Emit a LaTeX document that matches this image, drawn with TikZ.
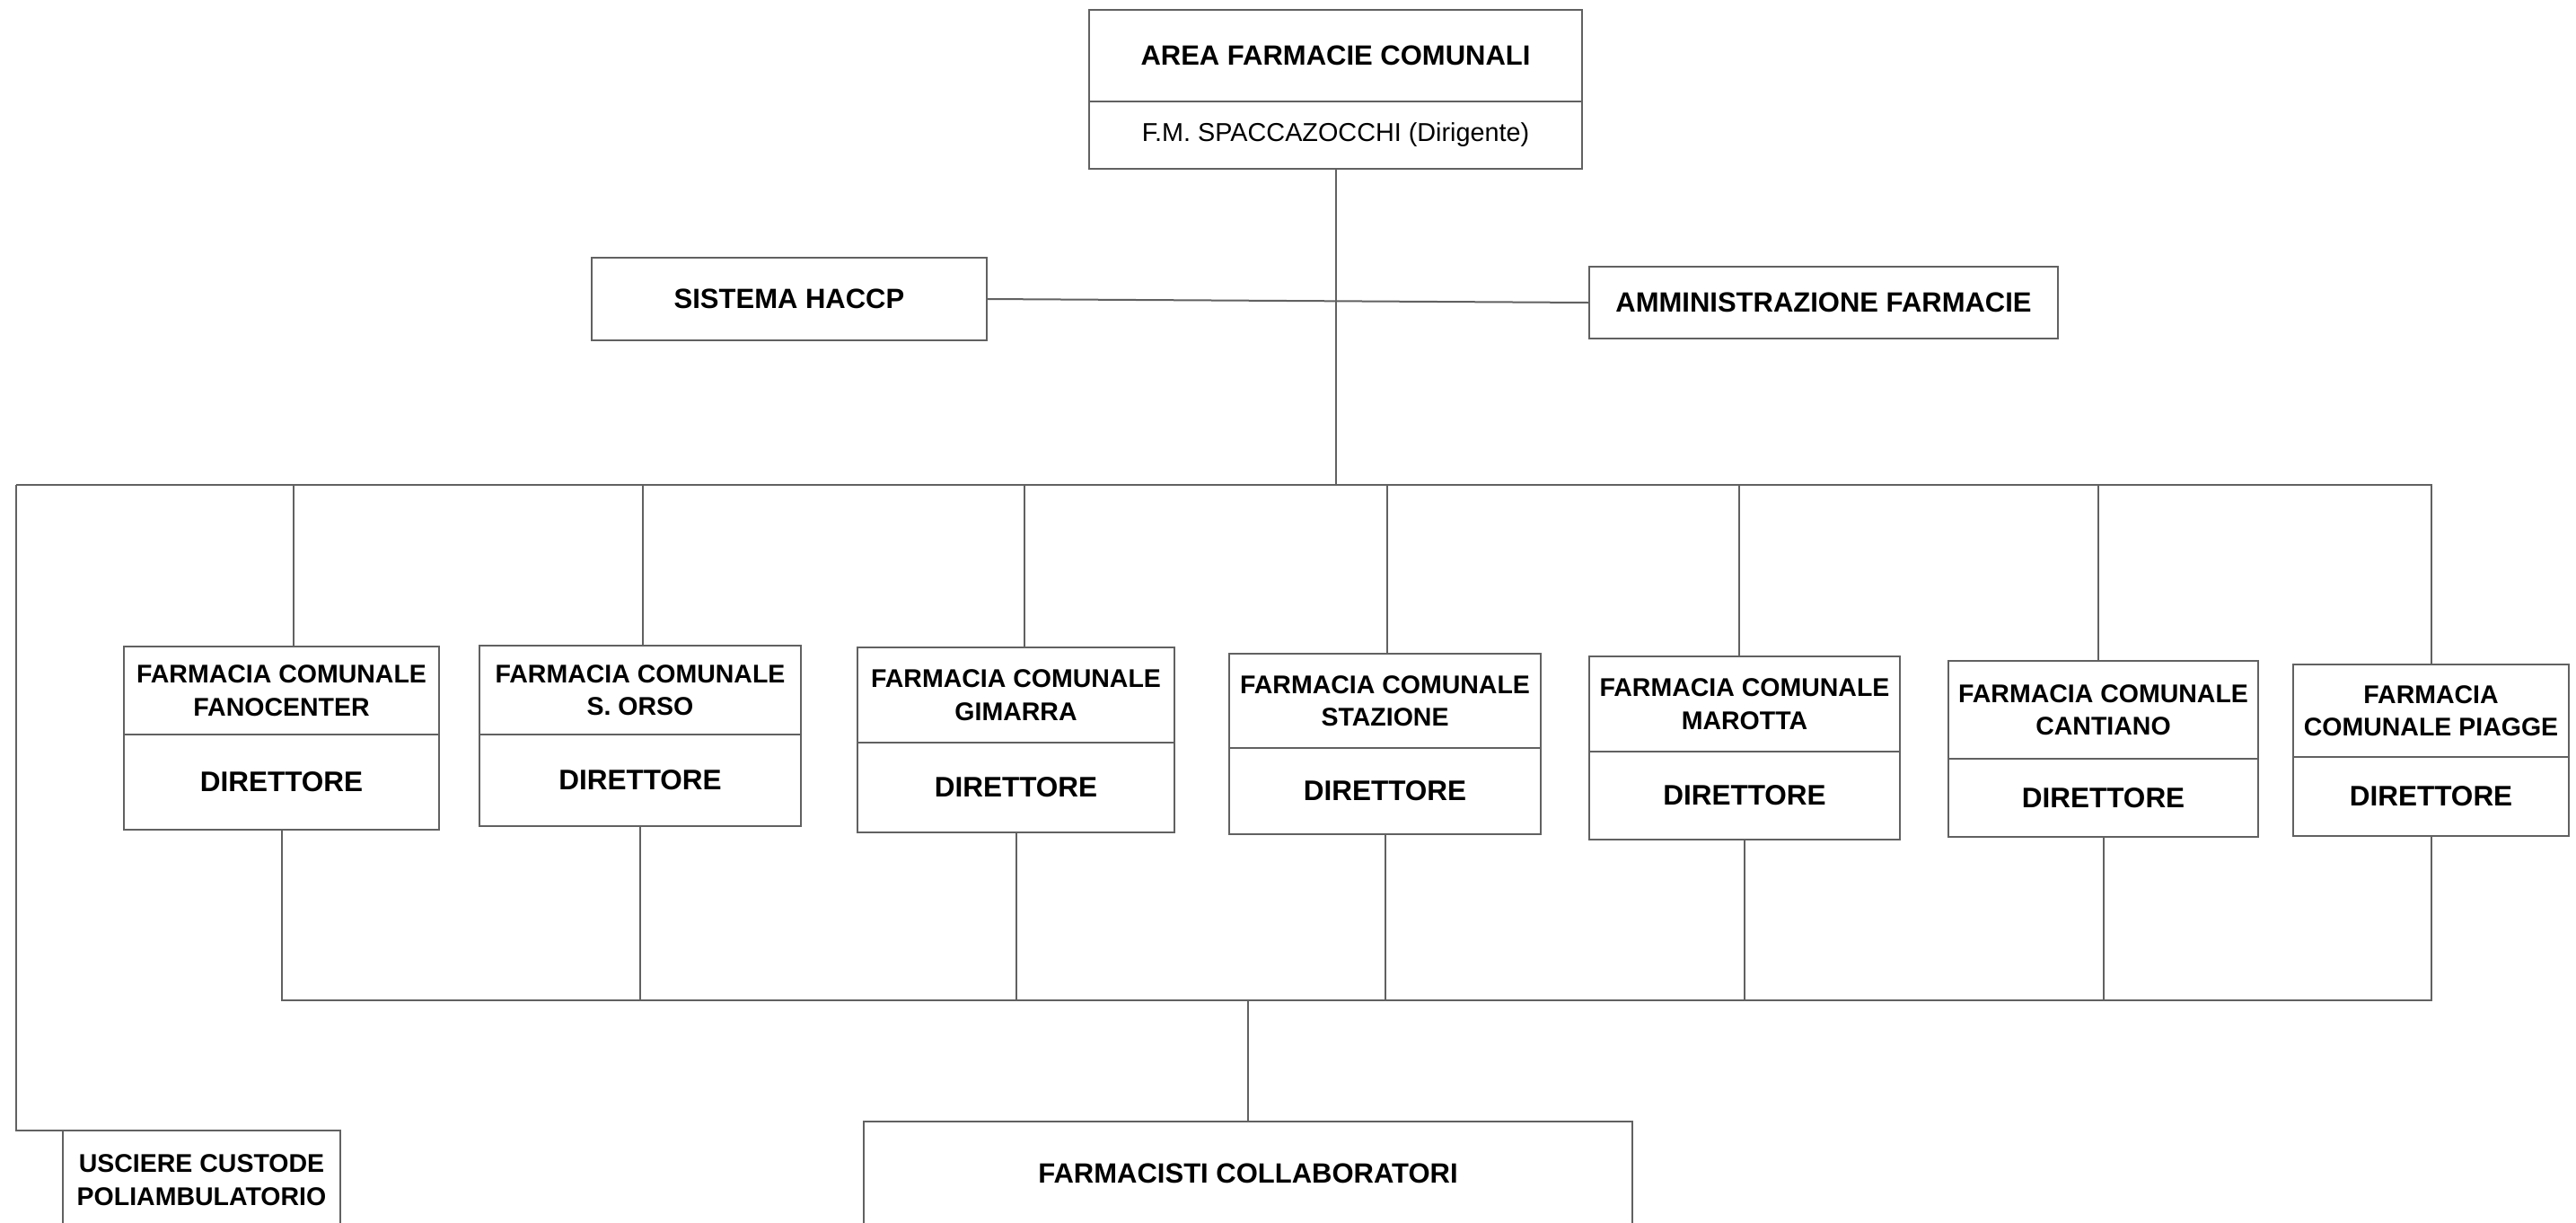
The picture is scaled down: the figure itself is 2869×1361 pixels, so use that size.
\documentclass[tikz,border=0pt]{standalone}
\usepackage{fontspec}
\setmainfont{Liberation Sans}
\definecolor{linec}{gray}{0.38}
\begin{document}
\begin{tikzpicture}[x=1pt,y=-1pt,
  box/.style={draw=linec, line width=2pt, fill=white, inner sep=0pt, outer sep=0pt, align=center, anchor=north west},
  conn/.style={draw=linec, line width=2pt},
  big/.style={font=\fontsize{31}{37}\selectfont\bfseries},
  head/.style={font=\fontsize{28.5}{36.5}\selectfont\bfseries},
  dirt/.style={font=\fontsize{31.5}{37}\selectfont\bfseries},
  reg/.style={font=\fontsize{28.8}{35}\selectfont}]
\clip (0,0) rectangle (2869,1361);
\fill[white] (0,0) rectangle (2869,1361);

% top
\node[box,big,minimum width=549pt,minimum height=102pt] (area) at (1213,11) {AREA FARMACIE COMUNALI};
\node[box,reg,minimum width=549pt,minimum height=75pt] (dirig) at (area.south west) {F.M. SPACCAZOCCHI (Dirigente)};

\node[box,big,minimum width=440pt,minimum height=92pt] (haccp) at (659,287) {SISTEMA HACCP};
\node[box,big,minimum width=522pt,minimum height=80pt] (amm) at (1770,297) {AMMINISTRAZIONE FARMACIE};

% pharmacies
\node[box,head,minimum width=351pt,minimum height=98pt] (h1) at (138,720) {FARMACIA COMUNALE\\FANOCENTER};
\node[box,dirt,minimum width=351pt,minimum height=106pt] (d1) at (h1.south west) {DIRETTORE};
\node[box,head,minimum width=358pt,minimum height=99pt] (h2) at (534,719) {FARMACIA COMUNALE\\S. ORSO};
\node[box,dirt,minimum width=358pt,minimum height=102pt] (d2) at (h2.south west) {DIRETTORE};
\node[box,head,minimum width=353pt,minimum height=106pt] (h3) at (955,721) {FARMACIA COMUNALE\\GIMARRA};
\node[box,dirt,minimum width=353pt,minimum height=100pt] (d3) at (h3.south west) {DIRETTORE};
\node[box,head,minimum width=347pt,minimum height=105pt] (h4) at (1369,728) {FARMACIA COMUNALE\\STAZIONE};
\node[box,dirt,minimum width=347pt,minimum height=96pt] (d4) at (h4.south west) {DIRETTORE};
\node[box,head,minimum width=346pt,minimum height=106pt] (h5) at (1770,731) {FARMACIA COMUNALE\\MAROTTA};
\node[box,dirt,minimum width=346pt,minimum height=98pt] (d5) at (h5.south west) {DIRETTORE};
\node[box,head,minimum width=345pt,minimum height=109pt] (h6) at (2170,736) {FARMACIA COMUNALE\\CANTIANO};
\node[box,dirt,minimum width=345pt,minimum height=87pt] (d6) at (h6.south west) {DIRETTORE};
\node[box,head,minimum width=307pt,minimum height=103pt] (h7) at (2554,740) {FARMACIA\\COMUNALE PIAGGE};
\node[box,dirt,minimum width=307pt,minimum height=88pt] (d7) at (h7.south west) {DIRETTORE};

% bottom
\node[box,head,minimum width=309pt,minimum height=110pt] (usc) at (70,1259) {USCIERE CUSTODE\\POLIAMBULATORIO};
\node[box,big,minimum width=856pt,minimum height=116pt] (farm) at (962,1249) {FARMACISTI COLLABORATORI};

% connectors
\coordinate (busL) at (18,540);
\coordinate (lb) at (0,1114);
\draw[conn] (dirig.south) -- (dirig.south |- busL);
\draw[conn] (haccp.east) -- (amm.west);
\draw[conn] (busL) -- (h7.north |- busL) -- (h7.north);
\foreach \i/\dx in {1/13,2/3,3/9,4/2,5/-6,6/-6} { \draw[conn] ([xshift=\dx pt]h\i.north |- busL) -- ([xshift=\dx pt]h\i.north); }
\draw[conn] (busL) |- (usc.north west);
\draw[conn] (d1.south) |- (d7.south |- lb) -- (d7.south);
\foreach \i in {2,...,6} { \draw[conn] (d\i.south) -- (d\i.south |- lb); }
\draw[conn] (farm.north) -- (farm.north |- lb);
\end{tikzpicture}
\end{document}
